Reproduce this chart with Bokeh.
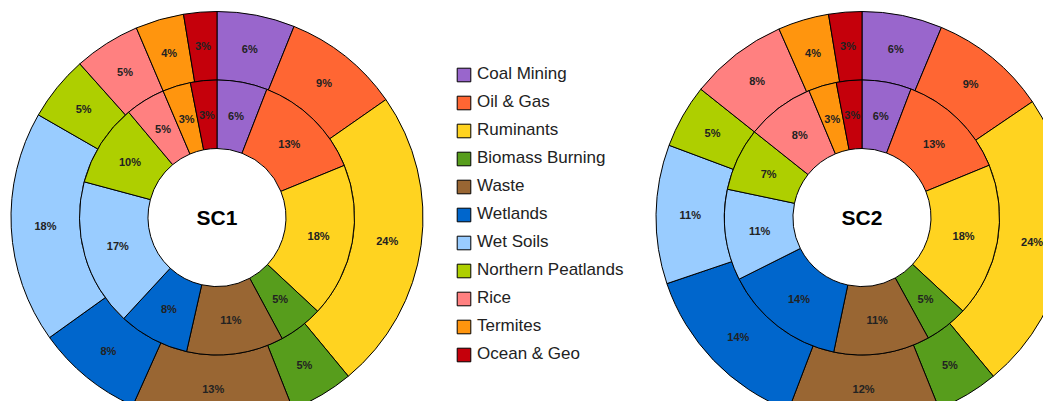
import numpy as np
from bokeh.plotting import figure
from bokeh.models import ColumnDataSource, Range1d, Legend, LegendItem
from bokeh.core.properties import value
from bokeh.embed import file_html
from bokeh.resources import INLINE

categories = ["Coal Mining", "Oil & Gas", "Ruminants", "Biomass Burning", "Waste",
              "Wetlands", "Wet Soils", "Northern Peatlands", "Rice", "Termites", "Ocean & Geo"]
colors = ["#9966CC", "#FF6633", "#FFD320", "#579D1C", "#996633",
          "#0066CC", "#99CCFF", "#AECF00", "#FF8080", "#FF950E", "#C5000B"]

sc1_inner = [5.9, 12.9, 18.1, 5.2, 11.4, 8.3, 17.3, 9.7, 4.7, 3.3, 3.1]
sc1_outer = [6.1, 9.2, 23.7, 5.0, 12.7, 8.4, 18.2, 5.1, 5.2, 3.8, 2.6]
sc2_inner = [5.8, 13.0, 18.1, 5.1, 11.3, 14.3, 10.7, 7.4, 8.0, 3.3, 3.0]
sc2_outer = [6.3, 9.2, 23.5, 4.9, 11.9, 14.0, 10.9, 5.0, 7.7, 4.0, 2.6]
scenarios = ["SC1", "SC2"]

FONT = "Liberation Sans"
W, H = 1043, 401
CX = [216.5, 861.5]
CY = 184.0
R_HOLE, R_MID, R_OUT = 69.0, 137.5, 206.0

p = figure(width=W, height=H, x_range=Range1d(0, W), y_range=Range1d(0, H),
           output_backend="svg", toolbar_location=None, min_border=0,
           x_axis_location=None, y_axis_location=None)
p.grid.visible = False
p.outline_line_color = None


def ring(vals, cx, cy, r0, r1):
    v = np.array(vals, dtype=float)
    frac = v / v.sum()
    cum = np.concatenate([[0.0], np.cumsum(frac)])
    start = np.pi / 2 - cum[:-1] * 2 * np.pi
    end = np.pi / 2 - cum[1:] * 2 * np.pi
    mid = (start + end) / 2
    rm = (r0 + r1) / 2
    labels = ["%d%%" % int(f * 100 + 0.5) for f in frac]
    src = ColumnDataSource(dict(start=start, end=end, color=colors, cat=categories,
                                lx=cx + rm * np.cos(mid), ly=cy + rm * np.sin(mid),
                                label=labels))
    r = p.annular_wedge(x=cx, y=cy, inner_radius=r0, outer_radius=r1,
                        start_angle="start", end_angle="end", direction="clock",
                        fill_color="color", line_color="black", line_width=1,
                        source=src)
    return r, src


renderers = []
label_sources = []
for i, (inner, outer) in enumerate([(sc1_inner, sc1_outer), (sc2_inner, sc2_outer)]):
    ro, so = ring(outer, CX[i], CY, R_MID, R_OUT)
    ri, si = ring(inner, CX[i], CY, R_HOLE, R_MID)
    renderers.append(ro)
    label_sources += [so, si]

for src in label_sources:
    p.text(x="lx", y="ly", text="label", source=src, text_align="center",
           text_baseline="middle", text_font=value(FONT), text_font_size="11px",
           text_font_style="bold", text_color="#222222")

p.text(x=CX, y=[CY, CY], text=scenarios, text_align="center", text_baseline="middle",
       text_font=value(FONT), text_font_size="21px", text_font_style="bold",
       text_color="#000000")

items = [LegendItem(label=c, renderers=[renderers[0]], index=i) for i, c in enumerate(categories)]
legend = Legend(items=items, location=(455, 37), glyph_width=17, glyph_height=17,
                label_height=20, spacing=8, padding=0, margin=0,
                border_line_color=None, background_fill_alpha=0,
                label_text_font=FONT, label_text_font_size="17px",
                label_text_color="#222222", label_standoff=5)
p.add_layout(legend)

open("out.html", "w").write(file_html(p, INLINE))
